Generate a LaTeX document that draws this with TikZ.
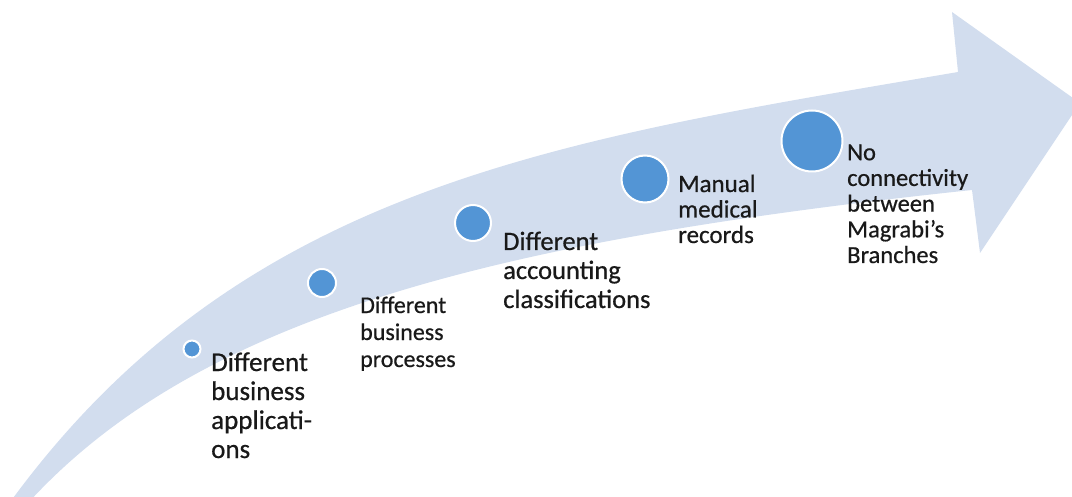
\documentclass[tikz,border=0pt]{standalone}
\usepackage{fontspec}
\setmainfont{Carlito}[FakeBold=0.6]
\definecolor{arrowfill}{RGB}{210,221,238}
\definecolor{dotfill}{RGB}{83,149,213}
\definecolor{txt}{RGB}{25,25,25}
\begin{document}
\begin{tikzpicture}[x=1pt,y=-1pt,
  dot/.style={circle, fill=dotfill, draw=white, line width=2pt, inner sep=0pt, minimum size=#1},
  lbl/.style={anchor=base west, inner sep=0pt, align=left, text=txt}]
\useasboundingbox (0,0) rectangle (1072,497);
\fill[arrowfill] (8,505) .. controls (240,185) and (558,140) .. (958,72)
  -- (952,12) -- (1080,103) -- (980,253) -- (972,190)
  .. controls (500,240) and (200,315) .. (28,503) -- cycle;
\node[dot=17pt] (c1) at (192,349) {};
\node[dot=28pt] (c2) at (322,283) {};
\node[dot=36pt] (c3) at (473,223) {};
\node[dot=47pt] (c4) at (645,179) {};
\node[dot=61pt] (c5) at (812,141) {};
\node[lbl, font=\fontsize{27}{29}\selectfont] (t1) at (211,458) {Different\\business\\applicati-\\ons};
\node[lbl, font=\fontsize{24}{27}\selectfont] (t2) at (360,367) {Different\\business\\processes};
\node[lbl, font=\fontsize{26.5}{29}\selectfont] (t3) at (503,308) {Different\\accounting\\classifications};
\node[lbl, font=\fontsize{25}{25.5}\selectfont] (t4) at (678,243) {Manual\\medical\\records};
\node[lbl, font=\fontsize{24.5}{25.7}\selectfont] (t5) at (847,263) {No\\connectivity\\between\\Magrabi’s\\Branches};
\end{tikzpicture}
\end{document}
